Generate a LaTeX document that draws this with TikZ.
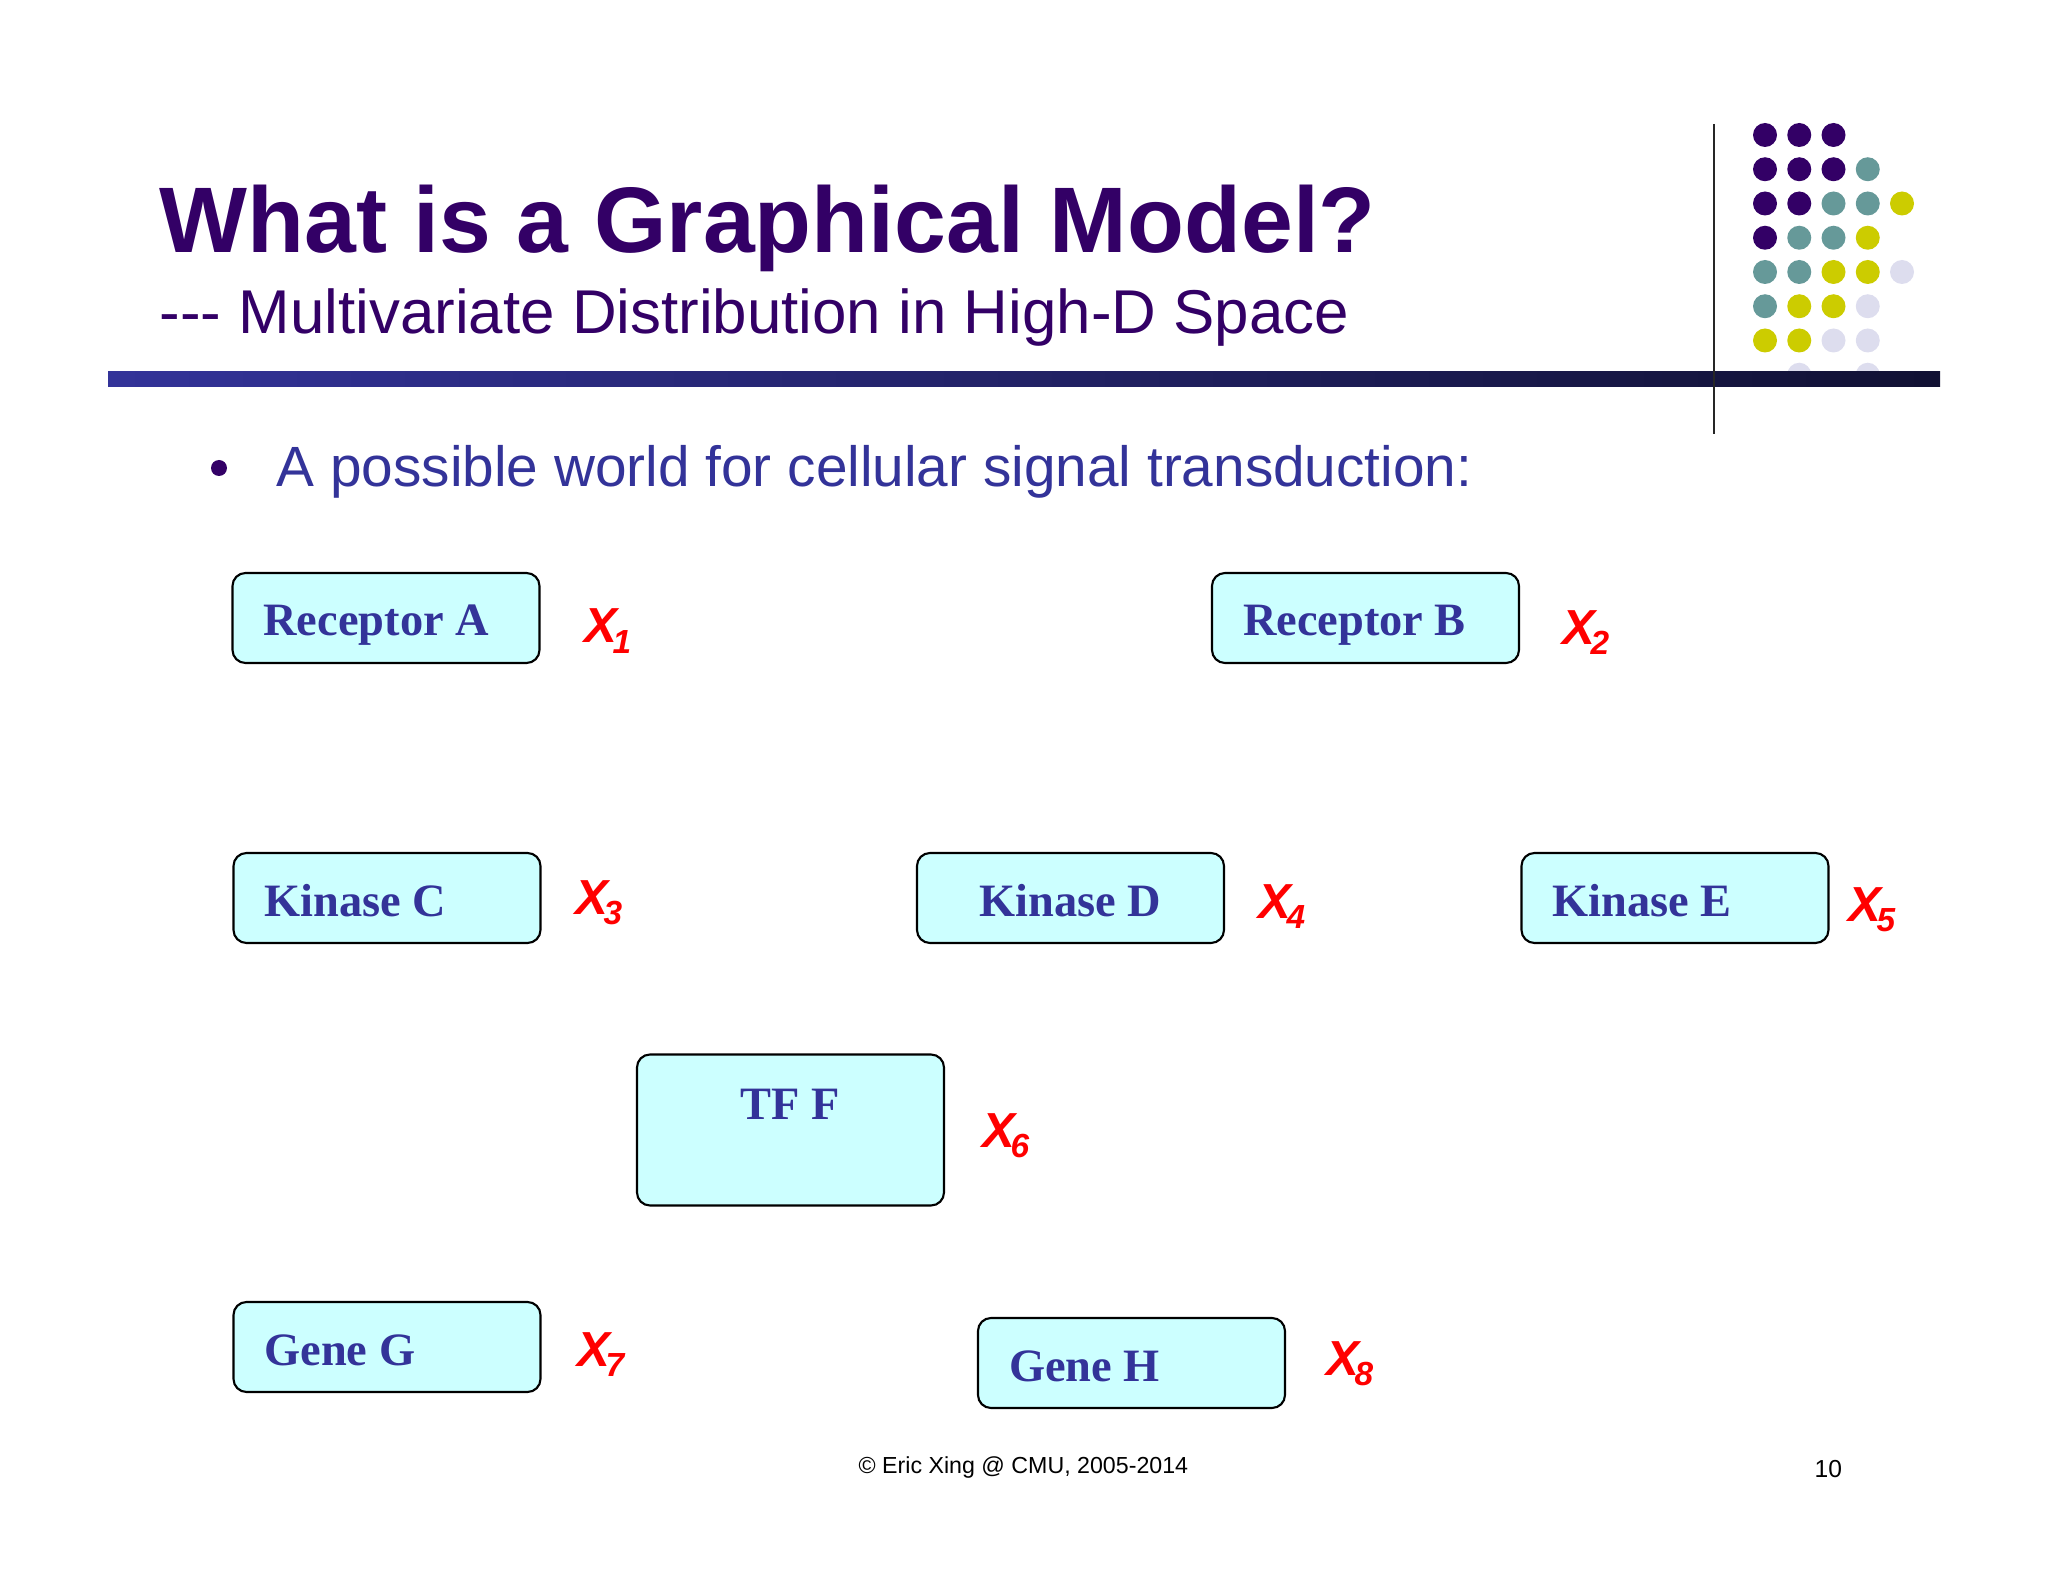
\documentclass[tikz,border=0pt]{standalone}
\usepackage{fontspec}
\setmainfont{Liberation Serif}
\setsansfont{Liberation Sans}
\usetikzlibrary{calc}
\definecolor{titlepurple}{RGB}{51,0,102}
\definecolor{bodyblue}{RGB}{51,51,153}
\definecolor{boxcyan}{RGB}{204,255,255}
\definecolor{dotteal}{RGB}{102,153,153}
\definecolor{dotyellow}{RGB}{204,204,0}
\definecolor{dotlav}{RGB}{221,221,238}
\definecolor{barnavy}{RGB}{17,17,51}
\def\griddot(#1:#2)[#3]{\fill[#3] ({17.65+0.3425*#1},{-1.35-0.3425*#2}) circle (0.12);}
\newcommand{\xvar}[1]{X\kern-0.05cm\raisebox{-0.1cm}{\fontsize{9.5}{10}\selectfont #1}}
\tikzset{
  varbox/.style={draw=black, line width=0.6pt, fill=boxcyan, rounded corners=0.13cm,
    minimum width=3.07cm, minimum height=0.9cm, inner xsep=0.31cm, inner ysep=0pt,
    text width=2.45cm, align=flush left, text height=0.36cm, text depth=0pt,
    font=\bfseries\fontsize{13.2}{14}\selectfont, text=bodyblue},
  varlabel/.style={anchor=base west, inner sep=0pt, text=red,
    font=\sffamily\bfseries\itshape\fontsize{14}{16}\selectfont},
  slidetext/.style={anchor=base west, inner sep=0pt},
}

\begin{document}
\begin{tikzpicture}
			%%%%% START %%%%%
			\useasboundingbox (0,0) rectangle (20.48,-15.82);
			
			% heading
			\node[slidetext, text=titlepurple, font=\sffamily\bfseries\fontsize{26.5}{30}\selectfont] (title) at (1.59,-2.53) {What is a Graphical Model?};
			\node[slidetext, text=titlepurple, font=\sffamily\fontsize{17.6}{20}\selectfont] (subtitle) at (1.59,-3.34) {-{}-{}- Multivariate Distribution in High-D Space};
			
			% dot grid
			\foreach \c/\r in {0/0,1/0,2/0,0/1,1/1,2/1,0/2,1/2,0/3}
				{\griddot(\c:\r)[titlepurple]}
			\foreach \c/\r in {3/1,2/2,3/2,1/3,2/3,0/4,1/4,0/5}
				{\griddot(\c:\r)[dotteal]}
			\foreach \c/\r in {4/2,3/3,2/4,3/4,1/5,2/5,0/6,1/6}
				{\griddot(\c:\r)[dotyellow]}
			\foreach \c/\r in {4/4,3/5,2/6,3/6,1/7,3/7}
				{\griddot(\c:\r)[dotlav]}
			
			\shade[left color=bodyblue, right color=barnavy] (1.08,-3.72) rectangle (19.40,-3.87);
			\draw[line width=0.6pt, color=black!85] (17.14,-1.24) -- (17.14,-4.34);
			
			% bullet
			\fill[titlepurple] (2.19,-4.68) circle (0.08);
			\node[slidetext, text=bodyblue, font=\sffamily\fontsize{16.15}{18}\selectfont] (bullet) at (2.76,-4.86) {A possible world for cellular signal transduction:};
			
			% variables
			\node[varbox] (recA) at (3.86,-6.18) {Receptor A};
			\node[varbox] (recB) at (13.655,-6.18) {Receptor B};
			\node[varbox] (kinC) at (3.87,-8.98) {Kinase C};
			\node[varbox, align=flush center] (kinD) at (10.705,-8.98) {Kinase D};
			\node[varbox] (kinE) at (16.75,-8.98) {Kinase E};
			\node[varbox, align=flush center, minimum height=1.51cm, text height=0.34cm, text depth=0.56cm] (tfF) at (7.905,-11.3) {TF F};
			\node[varbox] (geneG) at (3.87,-13.47) {Gene G};
			\node[varbox] (geneH) at (11.315,-13.63) {Gene H};
			
			\node[varlabel] (x1) at (5.84,-6.43) {\xvar{1}};
			\node[varlabel] (x2) at (15.62,-6.44) {\xvar{2}};
			\node[varlabel] (x3) at (5.75,-9.14) {\xvar{3}};
			\node[varlabel] (x4) at (12.58,-9.18) {\xvar{4}};
			\node[varlabel] (x5) at (18.48,-9.21) {\xvar{5}};
			\node[varlabel] (x6) at (9.82,-11.47) {\xvar{6}};
			\node[varlabel] (x7) at (5.77,-13.66) {\xvar{7}};
			\node[varlabel] (x8) at (13.26,-13.75) {\xvar{8}};
			
			% footer
			\node[slidetext, font=\sffamily\fontsize{6.6}{8}\selectfont] (credit) at (8.58,-14.73) {\textcopyright{} Eric Xing @ CMU, 2005-2014};
			\node[slidetext, font=\sffamily\fontsize{7}{8}\selectfont] (pagenum) at (18.14,-14.77) {10};
			
			%%%%% END %%%%%
\end{tikzpicture}
\end{document}
